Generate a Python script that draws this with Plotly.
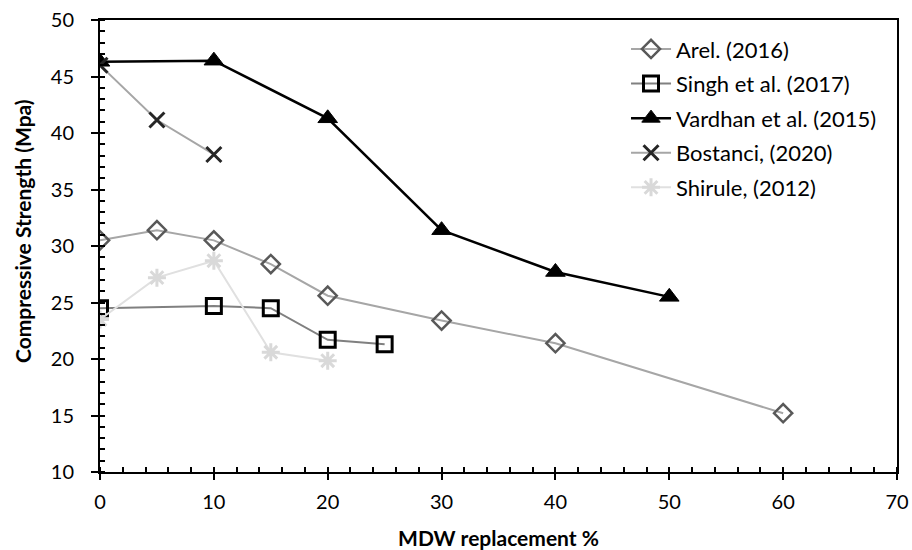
import plotly.graph_objects as go

# ---- data ----
arel_x = [0, 5, 10, 15, 20, 30, 40, 60]
arel_y = [30.5, 31.4, 30.5, 28.4, 25.6, 23.4, 21.4, 15.2]

singh_x = [0, 10, 15, 20, 25]
singh_y = [24.5, 24.7, 24.5, 21.7, 21.3]

vardhan_x = [0, 10, 20, 30, 40, 50]
vardhan_y = [46.3, 46.4, 41.3, 31.4, 27.7, 25.5]

bostanci_x = [0, 5, 10]
bostanci_y = [46.0, 41.15, 38.1]

shirule_x = [0, 5, 10, 15, 20]
shirule_y = [23.5, 27.2, 28.7, 20.6, 19.85]

names = ["Arel. (2016)", "Singh et al. (2017)", "Vardhan et al. (2015)",
         "Bostanci, (2020)", "Shirule, (2012)"]

x_title = "MDW replacement %"
y_title = "Compressive Strength (Mpa)"

FONT = "Lato"

fig = go.Figure()

fig.add_trace(go.Scatter(
    x=arel_x, y=arel_y, name=names[0], mode="lines+markers", legendgroup="a",
    line=dict(color="#a6a6a6", width=2),
    marker=dict(symbol="diamond-open", size=14, color="#595959",
                line=dict(color="#595959", width=2.5))))
fig.add_trace(go.Scatter(
    x=singh_x, y=singh_y, name=names[1], mode="lines+markers", legendgroup="b",
    line=dict(color="#808080", width=2),
    marker=dict(symbol="square-open", size=15, color="#000000",
                line=dict(color="#000000", width=3))))
fig.add_trace(go.Scatter(
    x=vardhan_x, y=vardhan_y, name=names[2], mode="lines+markers", legendgroup="c",
    line=dict(color="#000000", width=2.5),
    marker=dict(symbol="triangle-up", size=17, color="#000000",
                line=dict(color="#000000", width=1))))
fig.add_trace(go.Scatter(
    x=bostanci_x, y=bostanci_y, name=names[3], mode="lines+markers", legendgroup="d",
    line=dict(color="#a6a6a6", width=2),
    marker=dict(symbol="x-thin-open", size=15, color="#262626",
                line=dict(color="#262626", width=3))))
fig.add_trace(go.Scatter(
    x=shirule_x, y=shirule_y, name=names[4], mode="lines+markers", legendgroup="e",
    line=dict(color="#e0e0e0", width=2),
    marker=dict(symbol="asterisk-open", size=15, color="#d9d9d9",
                line=dict(color="#d9d9d9", width=3))))

tickfont = dict(family=FONT, size=20, color="#000000")

fig.update_layout(
    width=912, height=550,
    margin=dict(l=100, r=15, t=20, b=78),
    paper_bgcolor="white", plot_bgcolor="white",
    font=dict(family=FONT, color="#000000"),
    showlegend=True,
    legend=dict(x=0.66, y=0.982, xanchor="left", yanchor="top",
                font=dict(family=FONT, size=22, color="#000000"),
                bgcolor="rgba(0,0,0,0)", tracegroupgap=3, itemwidth=40),
    xaxis=dict(range=[0, 70], dtick=10, tick0=0, showgrid=False, zeroline=False,
               showline=True, linecolor="#000000", linewidth=2, mirror=True,
               ticks="outside", ticklen=6, tickwidth=2, tickcolor="#000000",
               tickfont=tickfont, ticklabelstandoff=5, automargin=False,
               minor=dict(dtick=2, ticks="inside", ticklen=5, tickwidth=1.5,
                          tickcolor="#000000", showgrid=False),
               title=dict(text="<b>" + x_title + "</b>", standoff=22,
                          font=dict(family=FONT, size=21, color="#000000"))),
    yaxis=dict(range=[10, 50], dtick=5, tick0=10, showgrid=False, zeroline=False,
               showline=True, linecolor="#000000", linewidth=2, mirror=True,
               ticks="outside", ticklen=7, tickwidth=2, tickcolor="#000000",
               tickfont=tickfont, ticklabelstandoff=13, automargin=False,
               minor=dict(dtick=1, ticks="inside", ticklen=5, tickwidth=1.5,
                          tickcolor="#000000", showgrid=False)),
    xaxis2=dict(range=[0, 70], dtick=10, tick0=0, overlaying="x", anchor="y",
                side="bottom", showgrid=False, zeroline=False, showline=False,
                ticks="inside", ticklen=7, tickwidth=2, tickcolor="#000000",
                showticklabels=False, automargin=False),
    yaxis2=dict(range=[10, 50], dtick=5, tick0=10, overlaying="y", anchor="x",
                side="left", showgrid=False, zeroline=False, showline=False,
                ticks="inside", ticklen=7, tickwidth=2, tickcolor="#000000",
                showticklabels=False, automargin=False),
    annotations=[dict(text="<b>" + y_title + "</b>", textangle=-90,
                      xref="paper", yref="paper", x=-0.098, y=0.533,
                      xanchor="center", yanchor="middle", showarrow=False,
                      font=dict(family=FONT, size=21, color="#000000"))],
)

fig.write_html("out.html")
